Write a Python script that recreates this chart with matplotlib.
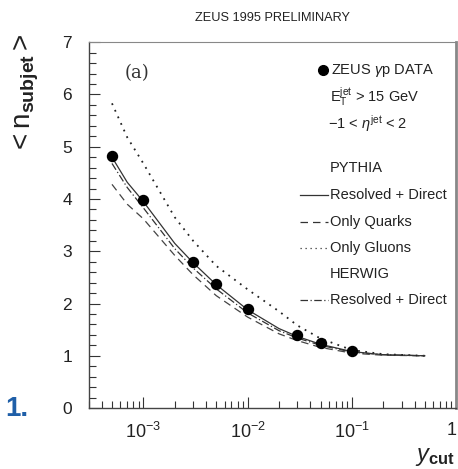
import matplotlib
matplotlib.use('Agg')
import matplotlib.pyplot as plt
from matplotlib.ticker import LogLocator, MultipleLocator, FixedLocator, NullFormatter

plt.rcParams['font.family'] = ['Liberation Sans', 'DejaVu Sans']
plt.rcParams['mathtext.fontset'] = 'custom'
plt.rcParams['mathtext.rm'] = 'Liberation Sans'
plt.rcParams['mathtext.it'] = 'Liberation Sans:italic'
plt.rcParams['mathtext.bf'] = 'Liberation Sans:bold'

# ZEUS data
ycut_data = [5e-4, 1e-3, 3e-3, 5e-3, 1e-2, 3e-2, 5e-2, 1e-1]
nsub_data = [4.83, 3.98, 2.80, 2.37, 1.90, 1.39, 1.24, 1.10]

# Monte Carlo curves
ycut_mc = [5e-4, 7e-4, 1e-3, 2e-3, 3e-3, 5e-3, 1e-2, 2e-2, 3e-2, 5e-2, 1e-1, 2e-1, 5e-1]
pythia_rd = [4.80, 4.32, 3.95, 3.15, 2.78, 2.36, 1.88, 1.52, 1.37, 1.22, 1.08, 1.02, 1.00]
pythia_q = [4.28, 3.90, 3.62, 2.92, 2.55, 2.15, 1.74, 1.42, 1.29, 1.16, 1.05, 1.01, 1.00]
pythia_g = [5.83, 5.18, 4.68, 3.65, 3.20, 2.72, 2.27, 1.85, 1.58, 1.33, 1.11, 1.03, 1.00]
herwig_rd = [4.68, 4.22, 3.83, 3.05, 2.68, 2.28, 1.82, 1.48, 1.34, 1.20, 1.07, 1.02, 1.00]

xtick_vals = [1e-3, 1e-2, 1e-1, 1.0]
xtick_labels = [r'$10^{-3}$', r'$10^{-2}$', r'$10^{-1}$', '1']

# line styles
ls_solid = '-'
ls_dash = (0, (6, 4))
ls_dot = (0, (1, 3))
ls_dashdot = (0, (6, 2, 1, 2))

fig = plt.figure(figsize=(4.58, 4.69), dpi=100)
ax = fig.add_axes([0.194, 0.130, 0.802, 0.780])

ax.plot(ycut_mc, pythia_rd, color='#333333', lw=0.9, ls=ls_solid)
ax.plot(ycut_mc, pythia_q, color='#444444', lw=0.9, ls=ls_dash)
ax.plot(ycut_mc, pythia_g, color='#222222', lw=1.3, ls=ls_dot)
ax.plot(ycut_mc, herwig_rd, color='#333333', lw=0.9, ls=ls_dashdot)
ax.plot(ycut_data, nsub_data, 'o', color='black', ms=7.2)

ax.set_xscale('log')
ax.set_xlim(3e-4, 1.0)
ax.set_ylim(0, 7)

ax.xaxis.set_major_locator(FixedLocator(xtick_vals))
ax.set_xticklabels(xtick_labels)
ax.xaxis.set_minor_locator(LogLocator(base=10, subs=range(2, 10)))
ax.xaxis.set_minor_formatter(NullFormatter())
ax.yaxis.set_major_locator(MultipleLocator(1))
ax.yaxis.set_minor_locator(MultipleLocator(0.2))

ax.tick_params(which='both', direction='in', top=False, right=False, colors='#333333')
ax.tick_params(which='major', length=8, width=0.8)
ax.tick_params(which='minor', length=5, width=0.8)
ax.tick_params(axis='y', labelsize=12.5, pad=12)
ax.tick_params(axis='x', labelsize=13, pad=10)
for lab in ax.get_xticklabels() + ax.get_yticklabels():
    lab.set_color('#222222')
ax.get_xticklabels()[-1].set_horizontalalignment('right')

for s in ['left', 'bottom']:
    ax.spines[s].set_color('#444444')
    ax.spines[s].set_linewidth(1.0)
ax.spines['top'].set_color('#888888')
ax.spines['top'].set_linewidth(0.8)
ax.spines['right'].set_color('#888888')
ax.spines['right'].set_linewidth(2.0)

# titles and labels
fig.text(0.595, 0.962, 'ZEUS 1995 PRELIMINARY', ha='center', va='center', fontsize=9.2,
         color='#222222')
fig.text(0.058, 0.80, r'$<\mathrm{n}_{\mathbf{subjet}}>$', rotation=90, ha='center',
         va='center', fontsize=20, color='#222222')
fig.text(0.993, 0.026, r'$y_{\mathbf{cut}}$', ha='right', va='center', fontsize=17,
         color='#222222')
fig.text(0.036, 0.128, '1.', ha='center', va='center', fontsize=20, fontweight='bold',
         color='#1f5fa8')
ax.text(0.13, 0.915, '(a)', transform=ax.transAxes, ha='center', va='center',
        fontsize=13, family='DejaVu Serif', color='#333333')

# legend block
tk = dict(transform=ax.transAxes, fontsize=10.5, color='#222222', va='center', ha='left')
x_txt = 0.656
ax.plot([0.638], [0.923], 'o', color='black', ms=7, transform=ax.transAxes, clip_on=False)
ax.text(x_txt + 0.004, 0.923, r'ZEUS $\gamma$p DATA', **tk)
ax.text(x_txt, 0.850, r'E$_\mathrm{T}^\mathrm{jet}$ > 15 GeV', **tk)
ax.text(x_txt - 0.006, 0.779, r'−1 < $\eta^\mathrm{jet}$ < 2', **tk)
ax.text(x_txt, 0.656, 'PYTHIA', **tk)
ax.text(x_txt, 0.366, 'HERWIG', **tk)

row_y = [0.582, 0.508, 0.437, 0.295]
row_ls = [ls_solid, ls_dash, ls_dot, ls_dashdot]
row_lab = ['Resolved + Direct', 'Only Quarks', 'Only Gluons', 'Resolved + Direct']
for y, ls, lab in zip(row_y, row_ls, row_lab):
    ax.plot([0.575, 0.650], [y, y], color='#333333', lw=0.9, ls=ls,
            transform=ax.transAxes, clip_on=False)
    ax.text(x_txt, y, lab, **tk)

fig.savefig('out.png', dpi=100)
